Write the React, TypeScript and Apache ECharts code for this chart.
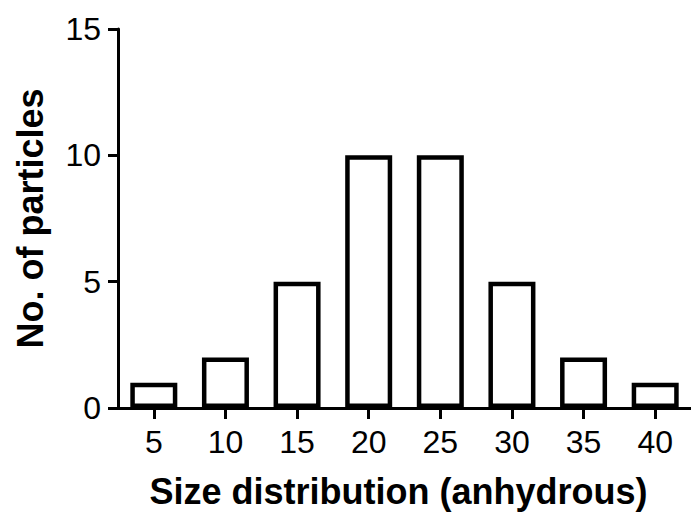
import React, { useEffect, useRef } from "react";
import * as echarts from "echarts";

const categories = ["5", "10", "15", "20", "25", "30", "35", "40"];
const counts = [1, 2, 5, 10, 10, 5, 2, 1];
const yTicks = { min: 0, max: 15, interval: 5 };

const FONT = "'Liberation Sans', Arial, sans-serif";

export default function App() {
  const ref = useRef<HTMLDivElement>(null);
  useEffect(() => {
    if (!ref.current) return;
    const chart = echarts.init(ref.current, null, { renderer: "svg" });
    chart.setOption({
      animation: false,
      backgroundColor: "#ffffff",
      grid: { left: 118, right: 0, top: 29, bottom: 109, containLabel: false, outerBoundsMode: "none" },
      xAxis: {
        type: "category",
        data: categories,
        name: "Size distribution (anhydrous)",
        nameLocation: "middle",
        nameGap: 65,
        nameTextStyle: { fontFamily: FONT, fontSize: 36, fontWeight: "bold", color: "#000", padding: [0, 12, 0, 0] },
        axisLine: { show: true, lineStyle: { color: "#000", width: 3 } },
        axisTick: { show: true, alignWithLabel: true, length: 11, lineStyle: { color: "#000", width: 3 } },
        axisLabel: { fontFamily: FONT, fontSize: 32, color: "#000", margin: 18 },
        splitLine: { show: false },
      },
      yAxis: {
        type: "value",
        min: yTicks.min,
        max: yTicks.max,
        interval: yTicks.interval,
        name: "No. of particles",
        nameLocation: "middle",
        nameGap: 70,
        nameRotate: 90,
        nameTextStyle: { fontFamily: FONT, fontSize: 36, fontWeight: "bold", color: "#000" },
        axisLine: { show: true, lineStyle: { color: "#000", width: 3 } },
        axisTick: { show: true, length: 10, lineStyle: { color: "#000", width: 3 } },
        axisLabel: { fontFamily: FONT, fontSize: 32, color: "#000", margin: 17 },
        splitLine: { show: false },
      },
      series: [
        {
          type: "bar",
          data: counts,
          barWidth: 47,
          itemStyle: { color: "#ffffff", borderColor: "#000", borderWidth: 4.5 },
        },
      ],
    });
    return () => chart.dispose();
  }, []);
  return <div ref={ref} style={{ width: 691, height: 517, position: "absolute", left: 0, top: 0 }} />;
}
